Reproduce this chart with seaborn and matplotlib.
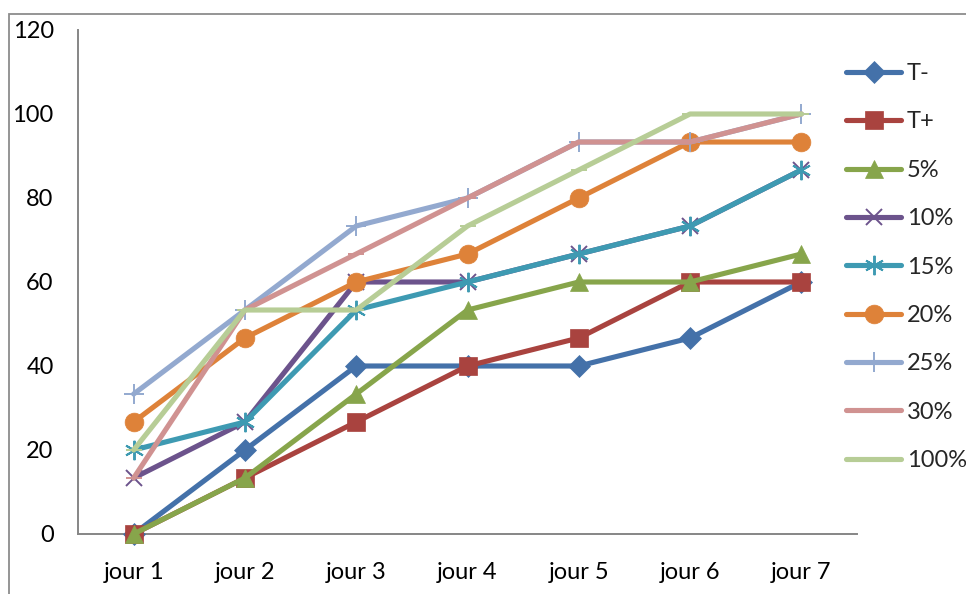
import matplotlib
matplotlib.use("Agg")
import matplotlib.pyplot as plt
import seaborn as sns
import pandas as pd
from matplotlib.lines import Line2D
from matplotlib.patches import Rectangle

sns.set_theme(style="white")
plt.rcParams["font.family"] = ["Lato", "DejaVu Sans"]

days = ["jour 1", "jour 2", "jour 3", "jour 4", "jour 5", "jour 6", "jour 7"]

t_minus = [0, 20, 40, 40, 40, 46.67, 60]
t_plus = [0, 13.33, 26.67, 40, 46.67, 60, 60]
c5 = [0, 13.33, 33.33, 53.33, 60, 60, 66.67]
c10 = [13.33, 26.67, 60, 60, 66.67, 73.33, 86.67]
c15 = [20, 26.67, 53.33, 60, 66.67, 73.33, 86.67]
c20 = [26.67, 46.67, 60, 66.67, 80, 93.33, 93.33]
c25 = [33.33, 53.33, 73.33, 80, 93.33, 93.33, 100]
c30 = [13.33, 53.33, 66.67, 80, 93.33, 93.33, 100]
c100 = [20, 53.33, 53.33, 73.33, 86.67, 100, 100]

labels = ["T-", "T+", "5%", "10%", "15%", "20%", "25%", "30%", "100%"]
values = [t_minus, t_plus, c5, c10, c15, c20, c25, c30, c100]
colors = ["#4471A9", "#A9433F", "#87A54B", "#6C538C", "#3E9AB2",
          "#DE8239", "#93A9CF", "#D09291", "#B7CD96"]
markers = ["D", "s", "^", "x", (6, 2, 0), "o", "+", "_", "_"]
msizes = [11, 13, 13, 12, 14, 13.5, 14, 11, 11]
LW = 3.7

fig = plt.figure(figsize=(9.66, 5.94), dpi=100)
ax = fig.add_axes([78 / 966, 1 - 534 / 594, (857 - 78) / 966, (534 - 30) / 594])


def style(i):
    filled = markers[i] in ("D", "s", "^", "o")
    return dict(color=colors[i], linewidth=LW, marker=markers[i],
                markersize=msizes[i], markeredgecolor=colors[i],
                markeredgewidth=0.5 if filled else 1.4,
                markerfacecolor=colors[i], solid_capstyle="round")


handles = []
for i, (lab, vals) in enumerate(zip(labels, values)):
    df = pd.DataFrame({"day": days, "value": vals})
    sns.lineplot(data=df, x="day", y="value", ax=ax, zorder=3 + i,
                 sort=False, clip_on=False, **style(i))
    handles.append(Line2D([0], [0], **style(i)))

ax.set_xlim(-0.5, 6.5)
ax.set_ylim(0, 120)
ax.set_yticks([0, 20, 40, 60, 80, 100, 120])
ax.set_xlabel("")
ax.set_ylabel("")
for side in ("top", "right"):
    ax.spines[side].set_visible(False)
for side in ("left", "bottom"):
    ax.spines[side].set_color("#868686")
    ax.spines[side].set_linewidth(1.4)

ax.set_xticks(range(7))
ax.set_xticklabels(days)
ax.set_xticks([x - 0.5 for x in range(8)], minor=True)
ax.tick_params(axis="x", which="major", length=0, pad=20, labelsize=17, labelcolor="black")
ax.tick_params(axis="x", which="minor", length=7, width=1.4, color="#868686", direction="out")
ax.tick_params(axis="y", which="major", length=7, width=1.4, color="#868686",
               direction="out", pad=10.5, labelsize=17, labelcolor="black")

leg = fig.legend(handles, labels, loc="upper left",
                 bbox_to_anchor=(846 / 966, 1 - 63 / 594), frameon=False,
                 handlelength=2.35, handletextpad=0.22, labelspacing=1.16,
                 fontsize=17, borderaxespad=0, borderpad=0)

# outer chart frame
fig.patches.append(Rectangle((9 / 966, -0.05), 1.1, 1 - 13.5 / 594 + 0.05,
                             transform=fig.transFigure, fill=False,
                             edgecolor="#8C8C8C", linewidth=1.3))

fig.savefig("out.png", dpi=100)
